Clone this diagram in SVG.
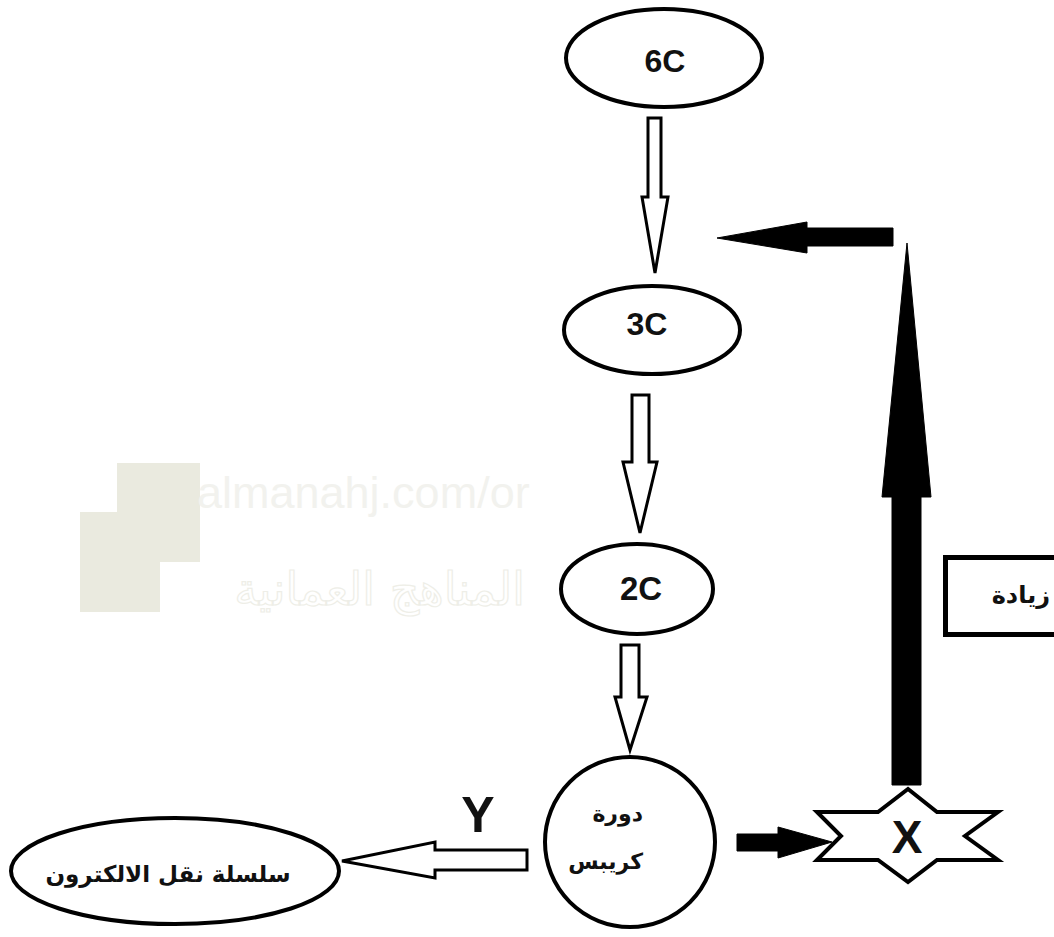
<svg xmlns="http://www.w3.org/2000/svg" width="1054" height="937" viewBox="0 0 1054 937">
<style>
.node{fill:#fff;stroke:#000;stroke-width:4}
.lbl{font-family:"Liberation Sans",Arial,sans-serif;font-weight:bold;fill:#111;text-anchor:middle}
.ar{font-family:"DejaVu Sans","Noto Sans",sans-serif;font-weight:bold;fill:#111}
.hollow{fill:#fff;stroke:#000;stroke-width:3;stroke-linejoin:miter}
.solid{fill:#000;stroke:#000;stroke-width:1}
</style>
<rect width="1054" height="937" fill="#fff"/>
<g id="watermark">
<rect x="117" y="463" width="83" height="99" fill="#eaeadf"/>
<rect x="80" y="512" width="80" height="100" fill="#eaeadf"/>
<text x="197" y="508" font-family="Liberation Sans,Arial,sans-serif" font-size="45" fill="#f2f2ee">almanahj.com/or</text>
<text x="525" y="605" font-family="DejaVu Sans,sans-serif" font-size="46" fill="none" stroke="#eeeee7" stroke-width="1.2" direction="rtl" text-anchor="start">المناهج العمانية</text>
</g>
<g id="node-6C">
<ellipse class="node" cx="664" cy="58" rx="98" ry="49"/>
<text class="lbl" x="665" y="72" font-size="32">6C</text>
</g>
<g id="node-3C">
<ellipse class="node" cx="652" cy="330" rx="88" ry="44"/>
<text class="lbl" x="647" y="335" font-size="32">3C</text>
</g>
<g id="node-2C">
<ellipse class="node" cx="637" cy="589" rx="76" ry="45"/>
<text class="lbl" x="641" y="600" font-size="33">2C</text>
</g>
<g id="node-krebs">
<circle class="node" cx="630" cy="842" r="85"/>
<text class="ar" x="643" y="821" font-size="22" font-weight="normal" direction="rtl" text-anchor="start">دورة</text>
<text class="ar" x="643" y="869" font-size="22" font-weight="normal" direction="rtl" text-anchor="start">كريبس</text>
</g>
<g id="node-etc">
<ellipse class="node" cx="175" cy="871" rx="164" ry="53"/>
<text class="ar" x="168" y="882" font-size="23" direction="rtl" text-anchor="middle">سلسلة نقل الالكترون</text>
</g>
<g id="node-X">
<polygon class="node" points="817,812 878,812 908,789 937,812 998,812 965,836 998,860 937,860 908,882 878,860 817,860 841,836"/>
<text class="lbl" x="907" y="853" font-size="46">X</text>
</g>
<g id="node-increase">
<rect x="945.5" y="557.5" width="120" height="77" fill="#fff" stroke="#000" stroke-width="5"/>
<text class="ar" x="1050" y="603" font-size="24" direction="rtl" text-anchor="start">زيادة</text>
</g>
<g id="connectors">
<polygon class="hollow" points="648,118 661,118 661,197 668,197 655,273 642,197 648,197"/>
<polygon class="hollow" points="632,395 649,395 649,462 657,462 640,533 623,462 632,462"/>
<polygon class="hollow" points="621,645 639,645 639,697 647,697 630,750 615,697 621,697"/>
<polygon class="hollow" points="527,850 527,870 435,870 435,878 342,861 435,842 435,850"/>
<polygon class="solid" points="893,228 893,246 807,246 807,253 717,238 807,222 807,228"/>
<polygon class="solid" points="892,785 921,785 921,497 931,497 907,243 882,497 892,497"/>
<polygon class="solid" points="737,834 778,834 778,827 832,842 778,858 778,851 737,851"/>
<text class="lbl" x="478" y="832" font-size="50">Y</text>
</g>
</svg>
